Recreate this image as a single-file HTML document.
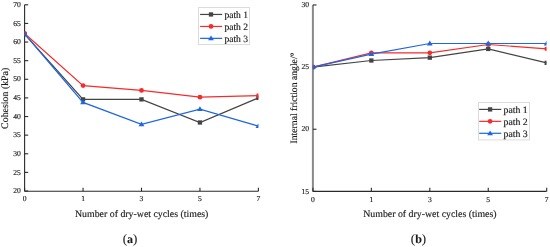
<!DOCTYPE html>
<html><head><meta charset="utf-8"><style>
html,body{margin:0;padding:0;background:#fff;}
body{width:550px;height:247px;overflow:hidden;}
svg{display:block;font-family:"Liberation Serif",serif;will-change:transform;}
text{fill:#1a1a1a;stroke:#1a1a1a;stroke-width:0.15px;text-rendering:geometricPrecision;}
text.cap{stroke-width:0.1px;}
</style></head><body>
<svg width="550" height="247" viewBox="0 0 550 247">
<rect width="550" height="247" fill="#fff"/>
<clipPath id="clipL"><rect x="24.6" y="0" width="233.79999999999998" height="191.3"/></clipPath>
<line x1="24.6" y1="4.8" x2="24.6" y2="191.3" stroke="#2a2a2a" stroke-width="1.1"/>
<line x1="24.6" y1="191.3" x2="258.4" y2="191.3" stroke="#2a2a2a" stroke-width="1.1"/>
<line x1="24.6" y1="4.80" x2="28.200000000000003" y2="4.80" stroke="#2a2a2a" stroke-width="1.1"/>
<text x="20.8" y="7.00" text-anchor="end" font-size="7.6">70</text>
<line x1="24.6" y1="23.42" x2="28.200000000000003" y2="23.42" stroke="#2a2a2a" stroke-width="1.1"/>
<text x="20.8" y="25.62" text-anchor="end" font-size="7.6">65</text>
<line x1="24.6" y1="42.04" x2="28.200000000000003" y2="42.04" stroke="#2a2a2a" stroke-width="1.1"/>
<text x="20.8" y="44.24" text-anchor="end" font-size="7.6">60</text>
<line x1="24.6" y1="60.66" x2="28.200000000000003" y2="60.66" stroke="#2a2a2a" stroke-width="1.1"/>
<text x="20.8" y="62.86" text-anchor="end" font-size="7.6">55</text>
<line x1="24.6" y1="79.28" x2="28.200000000000003" y2="79.28" stroke="#2a2a2a" stroke-width="1.1"/>
<text x="20.8" y="81.48" text-anchor="end" font-size="7.6">50</text>
<line x1="24.6" y1="97.90" x2="28.200000000000003" y2="97.90" stroke="#2a2a2a" stroke-width="1.1"/>
<text x="20.8" y="100.10" text-anchor="end" font-size="7.6">45</text>
<line x1="24.6" y1="116.52" x2="28.200000000000003" y2="116.52" stroke="#2a2a2a" stroke-width="1.1"/>
<text x="20.8" y="118.72" text-anchor="end" font-size="7.6">40</text>
<line x1="24.6" y1="135.14" x2="28.200000000000003" y2="135.14" stroke="#2a2a2a" stroke-width="1.1"/>
<text x="20.8" y="137.34" text-anchor="end" font-size="7.6">35</text>
<line x1="24.6" y1="153.76" x2="28.200000000000003" y2="153.76" stroke="#2a2a2a" stroke-width="1.1"/>
<text x="20.8" y="155.96" text-anchor="end" font-size="7.6">30</text>
<line x1="24.6" y1="172.38" x2="28.200000000000003" y2="172.38" stroke="#2a2a2a" stroke-width="1.1"/>
<text x="20.8" y="174.58" text-anchor="end" font-size="7.6">25</text>
<line x1="24.6" y1="191.00" x2="28.200000000000003" y2="191.00" stroke="#2a2a2a" stroke-width="1.1"/>
<text x="20.8" y="193.20" text-anchor="end" font-size="7.6">20</text>
<line x1="24.60" y1="191.3" x2="24.60" y2="187.70000000000002" stroke="#2a2a2a" stroke-width="1.1"/>
<text x="24.60" y="201.40" text-anchor="middle" font-size="7.6">0</text>
<line x1="83.05" y1="191.3" x2="83.05" y2="187.70000000000002" stroke="#2a2a2a" stroke-width="1.1"/>
<text x="83.05" y="201.40" text-anchor="middle" font-size="7.6">1</text>
<line x1="141.50" y1="191.3" x2="141.50" y2="187.70000000000002" stroke="#2a2a2a" stroke-width="1.1"/>
<text x="141.50" y="201.40" text-anchor="middle" font-size="7.6">3</text>
<line x1="199.95" y1="191.3" x2="199.95" y2="187.70000000000002" stroke="#2a2a2a" stroke-width="1.1"/>
<text x="199.95" y="201.40" text-anchor="middle" font-size="7.6">5</text>
<line x1="258.40" y1="191.3" x2="258.40" y2="187.70000000000002" stroke="#2a2a2a" stroke-width="1.1"/>
<text x="258.40" y="201.40" text-anchor="middle" font-size="7.6">7</text>
<g clip-path="url(#clipL)">
<path d="M24.60,34.22 L83.05,99.39 L141.50,99.39 L199.95,122.48 L258.40,97.90" fill="none" stroke="#444444" stroke-width="1.2"/>
<rect x="22.45" y="32.07" width="4.3" height="4.3" fill="#444444"/>
<rect x="80.90" y="97.24" width="4.3" height="4.3" fill="#444444"/>
<rect x="139.35" y="97.24" width="4.3" height="4.3" fill="#444444"/>
<rect x="197.80" y="120.33" width="4.3" height="4.3" fill="#444444"/>
<rect x="256.25" y="95.75" width="4.3" height="4.3" fill="#444444"/>
<path d="M24.60,33.47 L83.05,85.61 L141.50,90.45 L199.95,97.16 L258.40,95.67" fill="none" stroke="#f52c2c" stroke-width="1.2"/>
<circle cx="24.60" cy="33.47" r="2.4" fill="#f52c2c"/>
<circle cx="83.05" cy="85.61" r="2.4" fill="#f52c2c"/>
<circle cx="141.50" cy="90.45" r="2.4" fill="#f52c2c"/>
<circle cx="199.95" cy="97.16" r="2.4" fill="#f52c2c"/>
<circle cx="258.40" cy="95.67" r="2.4" fill="#f52c2c"/>
<path d="M24.60,33.85 L83.05,102.37 L141.50,124.34 L199.95,109.07 L258.40,126.20" fill="none" stroke="#1f66e0" stroke-width="1.2"/>
<path d="M24.60,30.97 L27.50,35.77 L21.70,35.77 Z" fill="#1f66e0"/>
<path d="M83.05,99.49 L85.95,104.29 L80.15,104.29 Z" fill="#1f66e0"/>
<path d="M141.50,121.46 L144.40,126.26 L138.60,126.26 Z" fill="#1f66e0"/>
<path d="M199.95,106.19 L202.85,110.99 L197.05,110.99 Z" fill="#1f66e0"/>
<path d="M258.40,123.32 L261.30,128.12 L255.50,128.12 Z" fill="#1f66e0"/>
</g>
<rect x="198.5" y="7.5" width="51" height="37" fill="#fff" stroke="#dcdcdc" stroke-width="1"/>
<line x1="200.1" y1="14.45" x2="222.2" y2="14.45" stroke="#444444" stroke-width="1.2"/>
<rect x="208.85" y="12.30" width="4.3" height="4.3" fill="#444444"/>
<text x="224.39999999999998" y="17.65" font-size="9.6">path 1</text>
<line x1="200.1" y1="26.45" x2="222.2" y2="26.45" stroke="#f52c2c" stroke-width="1.2"/>
<circle cx="211.00" cy="26.45" r="2.4" fill="#f52c2c"/>
<text x="224.39999999999998" y="29.65" font-size="9.6">path 2</text>
<line x1="200.1" y1="38.35" x2="222.2" y2="38.35" stroke="#1f66e0" stroke-width="1.2"/>
<path d="M211.00,35.47 L213.90,40.27 L208.10,40.27 Z" fill="#1f66e0"/>
<text x="224.39999999999998" y="41.55" font-size="9.6">path 3</text>
<text transform="translate(8.4,98.3) rotate(-90)" text-anchor="middle" font-size="9.9">Cohesion (kPa)</text>
<text x="141.7" y="216.9" text-anchor="middle" font-size="9.85">Number of dry-wet cycles (times)</text>
<text class="cap" x="130.0" y="242.6" text-anchor="middle" font-size="13.0">(<tspan font-weight="bold" font-size="12.0">a</tspan>)</text>
<clipPath id="clipR"><rect x="312.9" y="0" width="233.60000000000002" height="191.4"/></clipPath>
<line x1="312.9" y1="4.95" x2="312.9" y2="191.4" stroke="#8a8a8a" stroke-width="2.0"/>
<line x1="312.9" y1="191.4" x2="546.5" y2="191.4" stroke="#2a2a2a" stroke-width="1.1"/>
<line x1="312.9" y1="4.95" x2="316.5" y2="4.95" stroke="#2a2a2a" stroke-width="1.1"/>
<text x="309.0" y="7.15" text-anchor="end" font-size="7.6">30</text>
<line x1="312.9" y1="67.10" x2="316.5" y2="67.10" stroke="#2a2a2a" stroke-width="1.1"/>
<text x="309.0" y="69.30" text-anchor="end" font-size="7.6">25</text>
<line x1="312.9" y1="129.25" x2="316.5" y2="129.25" stroke="#2a2a2a" stroke-width="1.1"/>
<text x="309.0" y="131.45" text-anchor="end" font-size="7.6">20</text>
<line x1="312.9" y1="191.40" x2="316.5" y2="191.40" stroke="#2a2a2a" stroke-width="1.1"/>
<text x="309.0" y="193.60" text-anchor="end" font-size="7.6">15</text>
<line x1="312.90" y1="191.4" x2="312.90" y2="187.8" stroke="#2a2a2a" stroke-width="1.1"/>
<text x="312.90" y="201.60" text-anchor="middle" font-size="7.6">0</text>
<line x1="371.35" y1="191.4" x2="371.35" y2="187.8" stroke="#2a2a2a" stroke-width="1.1"/>
<text x="371.35" y="201.60" text-anchor="middle" font-size="7.6">1</text>
<line x1="429.80" y1="191.4" x2="429.80" y2="187.8" stroke="#2a2a2a" stroke-width="1.1"/>
<text x="429.80" y="201.60" text-anchor="middle" font-size="7.6">3</text>
<line x1="488.25" y1="191.4" x2="488.25" y2="187.8" stroke="#2a2a2a" stroke-width="1.1"/>
<text x="488.25" y="201.60" text-anchor="middle" font-size="7.6">5</text>
<line x1="546.70" y1="191.4" x2="546.70" y2="187.8" stroke="#2a2a2a" stroke-width="1.1"/>
<text x="546.70" y="201.60" text-anchor="middle" font-size="7.6">7</text>
<g clip-path="url(#clipR)">
<path d="M312.90,67.10 L371.35,60.51 L429.80,57.65 L488.25,48.95 L546.70,62.87" fill="none" stroke="#444444" stroke-width="1.2"/>
<rect x="310.75" y="64.95" width="4.3" height="4.3" fill="#444444"/>
<rect x="369.20" y="58.36" width="4.3" height="4.3" fill="#444444"/>
<rect x="427.65" y="55.50" width="4.3" height="4.3" fill="#444444"/>
<rect x="486.10" y="46.80" width="4.3" height="4.3" fill="#444444"/>
<rect x="544.55" y="60.72" width="4.3" height="4.3" fill="#444444"/>
<path d="M312.90,67.10 L371.35,52.93 L429.80,52.81 L488.25,44.48 L546.70,48.83" fill="none" stroke="#f52c2c" stroke-width="1.2"/>
<circle cx="312.90" cy="67.10" r="2.4" fill="#f52c2c"/>
<circle cx="371.35" cy="52.93" r="2.4" fill="#f52c2c"/>
<circle cx="429.80" cy="52.81" r="2.4" fill="#f52c2c"/>
<circle cx="488.25" cy="44.48" r="2.4" fill="#f52c2c"/>
<circle cx="546.70" cy="48.83" r="2.4" fill="#f52c2c"/>
<path d="M312.90,67.10 L371.35,54.17 L429.80,43.48 L488.25,43.48 L546.70,43.48" fill="none" stroke="#1f66e0" stroke-width="1.2"/>
<path d="M312.90,64.22 L315.80,69.02 L310.00,69.02 Z" fill="#1f66e0"/>
<path d="M371.35,51.29 L374.25,56.09 L368.45,56.09 Z" fill="#1f66e0"/>
<path d="M429.80,40.60 L432.70,45.40 L426.90,45.40 Z" fill="#1f66e0"/>
<path d="M488.25,40.60 L491.15,45.40 L485.35,45.40 Z" fill="#1f66e0"/>
<path d="M546.70,40.60 L549.60,45.40 L543.80,45.40 Z" fill="#1f66e0"/>
</g>
<rect x="478.5" y="102.5" width="51" height="37.4" fill="#fff" stroke="#dcdcdc" stroke-width="1"/>
<line x1="479.2" y1="109.4" x2="501.3" y2="109.4" stroke="#444444" stroke-width="1.2"/>
<rect x="487.95" y="107.25" width="4.3" height="4.3" fill="#444444"/>
<text x="503.5" y="112.90" font-size="9.8">path 1</text>
<line x1="479.2" y1="121.35" x2="501.3" y2="121.35" stroke="#f52c2c" stroke-width="1.2"/>
<circle cx="490.10" cy="121.35" r="2.4" fill="#f52c2c"/>
<text x="503.5" y="124.85" font-size="9.8">path 2</text>
<line x1="479.2" y1="133.3" x2="501.3" y2="133.3" stroke="#1f66e0" stroke-width="1.2"/>
<path d="M490.10,130.42 L493.00,135.22 L487.20,135.22 Z" fill="#1f66e0"/>
<text x="503.5" y="136.80" font-size="9.8">path 3</text>
<text transform="translate(296.7,98.0) rotate(-90)" text-anchor="middle" font-size="9.68">Internal friction angle/°</text>
<text x="429.9" y="216.9" text-anchor="middle" font-size="9.85">Number of dry-wet cycles (times)</text>
<text class="cap" x="418.5" y="242.6" text-anchor="middle" font-size="13.0">(<tspan font-weight="bold" font-size="12.0">b</tspan>)</text>
</svg>
</body></html>
